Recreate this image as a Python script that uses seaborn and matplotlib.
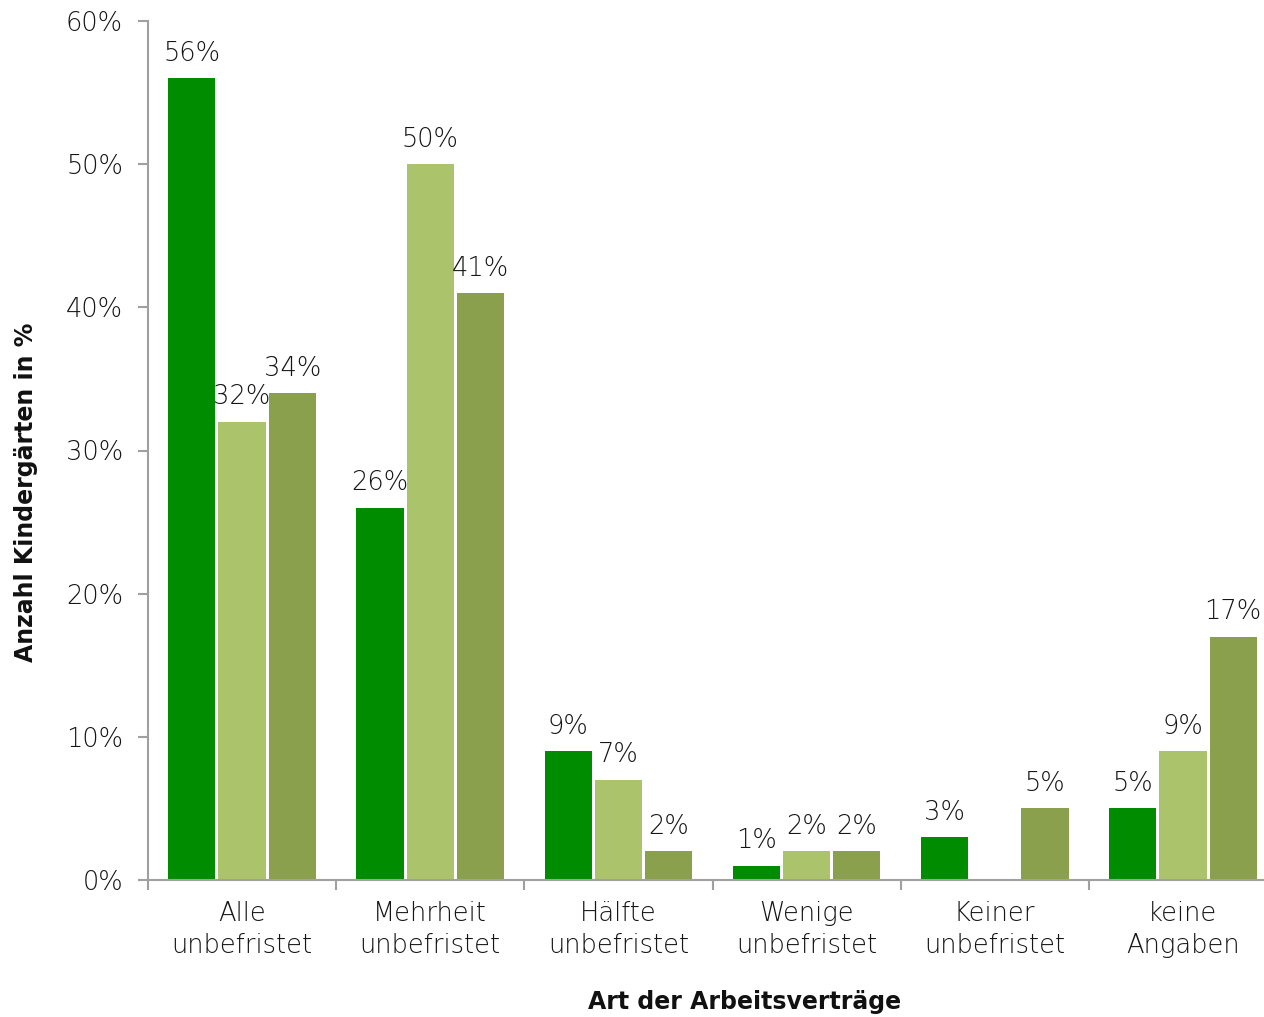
import matplotlib
matplotlib.use("Agg")
import matplotlib.pyplot as plt
import seaborn as sns
import numpy as np
import pandas as pd

categories = ["Alle\nunbefristet", "Mehrheit\nunbefristet", "Hälfte\nunbefristet",
              "Wenige\nunbefristet", "Keiner\nunbefristet", "keine\nAngaben"]
series_names = ["Reihe 1", "Reihe 2", "Reihe 3"]
values_1 = [56, 26, 9, 1, 3, 5]
values_2 = [32, 50, 7, 2, np.nan, 9]
values_3 = [34, 41, 2, 2, 5, 17]
colors = ["#008c00", "#abc46b", "#8aa04c"]
y_ticks = [0, 10, 20, 30, 40, 50, 60]

rows = []
for name, vals in zip(series_names, [values_1, values_2, values_3]):
    for c, v in zip(categories, vals):
        rows.append({"Kategorie": c, "Reihe": name, "Wert": v})
df = pd.DataFrame(rows)

sns.set_style("white")
plt.rcParams["font.family"] = ["DejaVu Sans"]

TXT = "#151515"
FS = 18.5
W = "light"

fig = plt.figure(figsize=(12.64, 10.17), dpi=100)
ax = fig.add_axes([148/1264, 137/1017, (1277-148)/1264, 859/1017])

sns.barplot(data=df, x="Kategorie", y="Wert", hue="Reihe", palette=colors,
            order=categories, hue_order=series_names, width=0.8, gap=0.06,
            legend=False, ax=ax, saturation=1, linewidth=0)

for cont in ax.containers:
    labels = ["" if np.isnan(b.get_height()) or b.get_height() == 0 else f"{b.get_height():.0f}%" for b in cont]
    ax.bar_label(cont, labels=labels, padding=9, fontsize=FS, color=TXT, fontweight=W)

ax.set_xlim(-0.5, 5.5)
ax.set_ylim(0, 60)
ax.set_yticks(y_ticks)
ax.set_yticklabels([f"{t}%" for t in y_ticks], fontsize=FS, color=TXT, fontweight=W)
ax.set_xticks(range(len(categories)))
ax.set_xticklabels(categories, fontsize=FS, color=TXT, linespacing=1.35, fontweight=W)
ax.set_xticks(np.arange(-0.5, 6.0, 1.0), minor=True)
ax.tick_params(axis="both", which="both", bottom=True, left=True)
ax.tick_params(axis="x", which="major", length=0, pad=15)
ax.tick_params(axis="x", which="minor", length=7, color="#a0a0a0", width=1.5, direction="out")
ax.tick_params(axis="y", length=7, color="#a0a0a0", width=1.5, direction="out", pad=11)

for s in ["top", "right"]:
    ax.spines[s].set_visible(False)
for s in ["left", "bottom"]:
    ax.spines[s].set_color("#a0a0a0")
    ax.spines[s].set_linewidth(1.5)

ax.set_xlabel("Art der Arbeitsverträge", fontsize=17, fontweight="bold", color="#111111")
ax.set_ylabel("Anzahl Kindergärten in %", fontsize=17, fontweight="bold", color="#111111")
ax.xaxis.set_label_coords((744-148)/1127, -(990-880)/859)
ax.yaxis.set_label_coords(-(148-38)/1127, (880-492)/859)

fig.savefig("out.png", dpi=100, facecolor="white")
